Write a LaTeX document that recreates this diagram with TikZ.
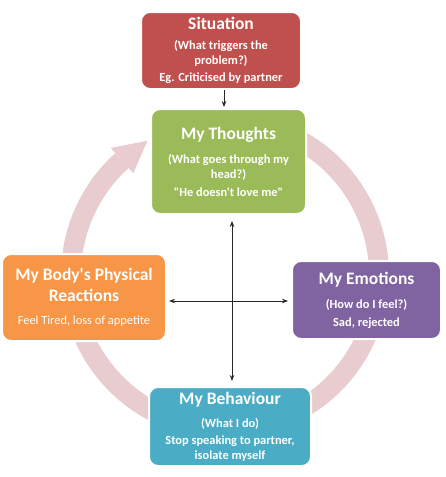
\documentclass[tikz,border=0pt]{standalone}
\usepackage{fontspec}
\setmainfont{Carlito}[Ligatures=TeXOff]
\usetikzlibrary{arrows.meta,calc}
\definecolor{sitred}{RGB}{192, 80, 77}
\definecolor{thoughtgreen}{RGB}{155, 187, 89}
\definecolor{bodyorange}{RGB}{247, 150, 70}
\definecolor{emopurple}{RGB}{128, 100, 162}
\definecolor{behavblue}{RGB}{75, 172, 198}
\definecolor{ringpink}{RGB}{232, 204, 207}
\newcommand{\boxhead}[1]{{\fontsize{17.5}{20}\selectfont #1}}

\begin{document}
\begin{tikzpicture}[
    x=1pt, y=-1pt,
    >={Stealth[length=6pt,width=4.5pt]},
    cbtbox/.style={draw=white, line width=2pt, fill=#1, rounded corners=9pt, text=white, align=center, inner sep=0pt, font=\fontsize{12.4}{15}\selectfont\bfseries},
    ringline/.style={draw=ringpink, line width=20pt},
    link/.style={->, line width=0.9pt, black!85},
    dlink/.style={<->, line width=0.9pt, black!85}
]
\useasboundingbox (0,0) rectangle (446,477);

% Background cycle ring
\coordinate (ctr) at (225,275);
\draw[ringline] ($(ctr)+(-65:154)$) arc[start angle=-65, end angle=228, radius=154];
\fill[ringpink] ($(ctr)+(228:137)$) -- ($(ctr)+(228:171)$) -- ($(ctr)+(240:155)$) -- cycle;

% ==================== CYCLE BOXES ====================
\node[cbtbox=sitred, minimum width=160pt, minimum height=77pt] (situation) at (221,50.5)
    {\boxhead{Situation}\\[5pt](What triggers the\\problem?)\\[2pt]Eg. Criticised by partner};
\node[cbtbox=thoughtgreen, minimum width=155pt, minimum height=105pt] (thoughts) at (228.5,161.5)
    {\boxhead{My Thoughts}\\[9pt](What goes through my\\head?)\\[3pt]"He doesn't love me"};
\node[cbtbox=bodyorange, minimum width=164pt, minimum height=87pt] (body) at (84,297.5)
    {\boxhead{My Body's Physical}\\[5pt]\boxhead{Reactions}\\[8pt]\mdseries Feel Tired, loss of appetite};
\node[cbtbox=emopurple, minimum width=149pt, minimum height=78pt] (emotions) at (366.5,300)
    {\boxhead{My Emotions}\\[9pt](How do I feel?)\\[3pt]Sad, rejected};
\node[cbtbox=behavblue, minimum width=162pt, minimum height=79pt] (behaviour) at (230,426.5)
    {\boxhead{My Behaviour}\\[8pt](What I do)\\[2pt]Stop speaking to partner,\\isolate myself};

% ==================== CONNECTORS ====================
\coordinate (hub) at (232,301);
\coordinate (drop) at ([xshift=3pt]situation.south);

% Situation triggers thoughts
\draw[link, shorten >=1pt] (drop) -- (drop |- thoughts.north);

% Thoughts <-> Behaviour
\draw[dlink, shorten <=6pt, shorten >=5pt] (thoughts.south -| hub) -- (behaviour.north -| hub);

% Body <-> Emotions
\draw[dlink, shorten <=2pt, shorten >=3pt] (body.east |- hub) -- (emotions.west |- hub);

\end{tikzpicture}
\end{document}
